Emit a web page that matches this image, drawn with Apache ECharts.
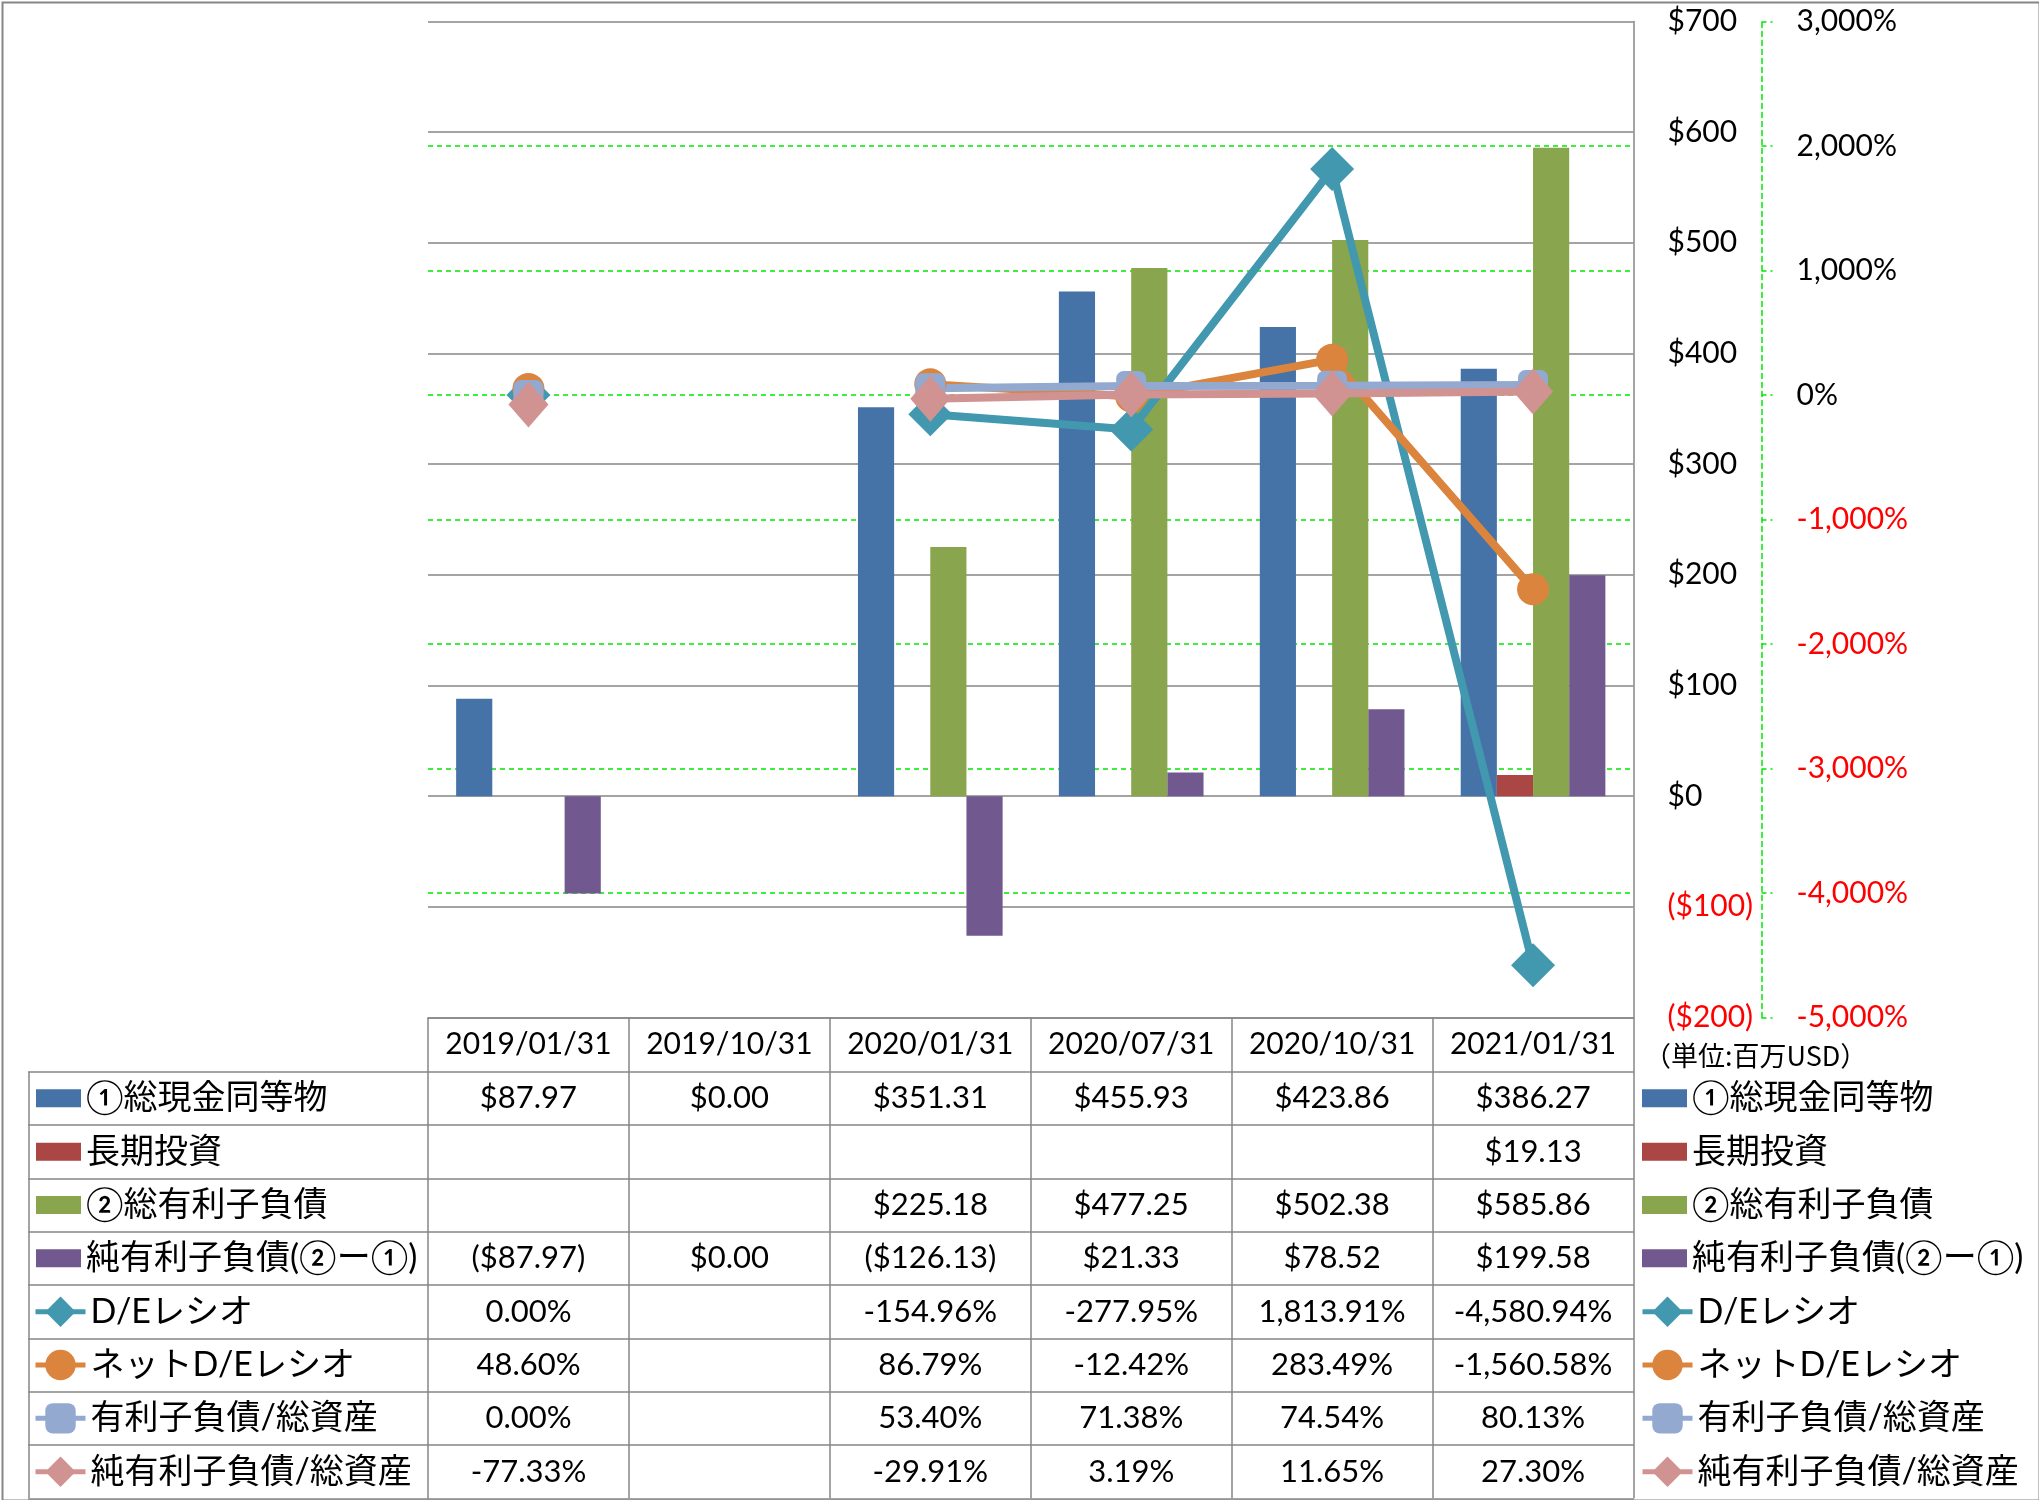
<!DOCTYPE html>
<html><head><meta charset="utf-8">
<script src="https://cdn.jsdelivr.net/npm/echarts@6/dist/echarts.min.js"></script>
<style>html,body{margin:0;padding:0;background:#fff}#c{width:2039px;height:1500px}</style>
</head><body><div id="c"></div>
<script>
// ---------- data ----------
const categories = ['2019/01/31','2019/10/31','2020/01/31','2020/07/31','2020/10/31','2021/01/31'];
const barNames = ['①総現金同等物','長期投資','②総有利子負債','純有利子負債(②ー①)'];
const lineNames = ['D/Eレシオ','ネットD/Eレシオ','有利子負債/総資産','純有利子負債/総資産'];
const cashEquiv      = [87.97, 0, 351.31, 455.93, 423.86, 386.27];
const longTermInv    = [null, null, null, null, null, 19.13];
const totalDebt      = [null, null, 225.18, 477.25, 502.38, 585.86];
const netDebt        = [-87.97, 0, -126.13, 21.33, 78.52, 199.58];
const deRatio        = [0.00, null, -154.96, -277.95, 1813.91, -4580.94];
const netDeRatio     = [48.60, null, 86.79, -12.42, 283.49, -1560.58];
const debtToAssets   = [0.00, null, 53.40, 71.38, 74.54, 80.13];
const netDebtToAssets= [-77.33, null, -29.91, 3.19, 11.65, 27.30];
const usdAxis = {min: -200, max: 700, interval: 100};
const pctAxis = {min: -5000, max: 3000, interval: 1000};
const unitNote = '（単位:百万USD）';

// ---------- styling / layout ----------
const barColors = ['#4572A7','#AA4643','#89A54E','#71588F'];
const lineColors = ['#4198AF','#DB843D','#93A9CF','#D19392'];
const lineSymbols = ['diamond','circle','roundRect','diamond'];
const lineSymbolSizes = [44, 32, 30, [40, 46]];
const W = 2039, H = 1500;
const plotLeft = 428, plotRight = 1633.5, plotTop = 21.4, plotBottom = 1017.5;
const tableLeft = 28.6, headerH = 54.2, rowH = 53.33;
const gray = '#868686';
const green = '#00e600';
const latin = 'Lato, "Noto Sans CJK JP", sans-serif';

function num2(v){ return Math.abs(v).toLocaleString('en-US',{minimumFractionDigits:2, maximumFractionDigits:2}); }
function fmtUSD(v){ if (v == null) return ''; return v < 0 ? '($' + num2(v) + ')' : '$' + num2(v); }
function fmtPct(v){ if (v == null) return ''; return (v < 0 ? '-' : '') + num2(v) + '%'; }

const tableRows = [
  {values: cashEquiv, fmt: fmtUSD},
  {values: longTermInv, fmt: fmtUSD},
  {values: totalDebt, fmt: fmtUSD},
  {values: netDebt, fmt: fmtUSD},
  {values: deRatio, fmt: fmtPct},
  {values: netDeRatio, fmt: fmtPct},
  {values: debtToAssets, fmt: fmtPct},
  {values: netDebtToAssets, fmt: fmtPct}
];

const lineAx = {show: true, onZero: false, lineStyle: {color: gray, width: 1.5}};
const xAxes = [];
// header row (dates)
xAxes.push({
  type: 'category', gridIndex: 0, data: categories, position: 'bottom', offset: 0,
  axisLine: lineAx,
  axisTick: {show: true, interval: 0, length: headerH, lineStyle: {color: gray, width: 1.5}},
  axisLabel: {interval: 0, margin: headerH/2, verticalAlign: 'middle', fontFamily: latin, fontSize: 30, color: '#000'},
  splitLine: {show: false}
});
// data rows
tableRows.forEach((r, i) => {
  xAxes.push({
    type: 'category', gridIndex: 0, data: categories, position: 'bottom', offset: headerH + i*rowH,
    axisLine: lineAx,
    axisTick: {show: true, interval: 0, length: rowH, lineStyle: {color: gray, width: 1.5}},
    axisLabel: {interval: 0, margin: rowH/2, verticalAlign: 'middle', fontFamily: latin, fontSize: 31, color: '#000',
      formatter: (val, idx) => r.fmt(r.values[idx])},
    splitLine: {show: false}
  });
});
xAxes.push({
  type: 'category', gridIndex: 0, data: categories, position: 'bottom', offset: headerH + 8*rowH,
  axisLine: lineAx, axisTick: {show: false}, axisLabel: {show: false}, splitLine: {show: false}
});
// label column grid
for (let i = 0; i <= 8; i++) {
  xAxes.push({
    type: 'category', gridIndex: 1, data: [''], position: 'bottom', offset: headerH + i*rowH,
    axisLine: lineAx,
    axisTick: {show: i < 8, interval: 0, length: rowH, lineStyle: {color: gray, width: 1.5}},
    axisLabel: {show: false}, splitLine: {show: false}
  });
}

const textLH = 34;
const legendCommon = {
  orient: 'vertical', padding: 0, itemGap: rowH - textLH, selectedMode: false,
  lineStyle: {width: 5},
  textStyle: {fontSize: 34, fontFamily: latin, color: '#000', lineHeight: textLH}
};
const rowCenter0 = plotBottom + headerH + rowH/2;

const option = {
  animation: false,
  backgroundColor: '#fff',
  title: {text: unitNote, left: 1644, top: 1042, padding: 0,
    textStyle: {fontSize: 27, fontWeight: 'normal', fontFamily: '"Noto Sans CJK JP"', color: '#000'}},
  grid: [
    {left: plotLeft, right: W - plotRight, top: plotTop, bottom: H - plotBottom, outerBoundsMode: 'none', containLabel: false},
    {left: tableLeft, right: W - plotLeft, top: plotTop, bottom: H - plotBottom, outerBoundsMode: 'none', containLabel: false}
  ],
  xAxis: xAxes,
  yAxis: [
    {type: 'value', gridIndex: 0, position: 'right', min: usdAxis.min, max: usdAxis.max, interval: usdAxis.interval,
      axisLine: {show: true, onZero: false, lineStyle: {color: gray, width: 1.5}},
      axisTick: {show: false},
      splitLine: {show: true, lineStyle: {color: gray, width: 1.5}},
      axisLabel: {margin: 34, fontFamily: latin, fontSize: 30,
        formatter: v => v < 0 ? '($' + Math.abs(v) + ')' : '$' + v,
        color: v => (+v < 0 ? '#ff0000' : '#000')}},
    {type: 'value', gridIndex: 0, position: 'right', offset: 128, min: pctAxis.min, max: pctAxis.max, interval: pctAxis.interval,
      axisLine: {show: true, onZero: false, lineStyle: {color: green, width: 1.5, type: [5, 4]}},
      axisTick: {show: true, length: 11, lineStyle: {color: green, width: 1.5, type: [5, 4]}},
      splitLine: {show: true, showMinLine: false, showMaxLine: false, lineStyle: {color: green, width: 1.5, type: [5, 4]}},
      axisLabel: {margin: 35, fontFamily: latin, fontSize: 30,
        formatter: v => v.toLocaleString('en-US') + '%',
        color: v => (+v < 0 ? '#ff0000' : '#000')}},
    {type: 'value', gridIndex: 1, show: false}
  ],
  legend: [
    Object.assign({}, legendCommon, {left: 36, top: rowCenter0 - textLH/2, data: barNames, icon: 'rect', itemWidth: 45, itemHeight: 18}),
    Object.assign({}, legendCommon, {left: 33, top: rowCenter0 + 4*rowH - textLH/2, data: lineNames, itemWidth: 50, itemHeight: 38}),
    Object.assign({}, legendCommon, {left: 1642, top: rowCenter0 - textLH/2, data: barNames, icon: 'rect', itemWidth: 45, itemHeight: 18}),
    Object.assign({}, legendCommon, {left: 1640, top: rowCenter0 + 4*rowH - textLH/2, data: lineNames, itemWidth: 50, itemHeight: 38})
  ],
  graphic: [{type: 'rect', left: 0, top: 0, z: 100, silent: true,
    shape: {width: W - 2, height: H - 2}, style: {fill: 'none', stroke: gray, lineWidth: 2}}],
  series: [
    ...[cashEquiv, longTermInv, totalDebt, netDebt].map((d, i) => ({
      name: barNames[i], type: 'bar', xAxisIndex: 0, yAxisIndex: 0, data: d,
      barGap: '0%', barCategoryGap: '28%', itemStyle: {color: barColors[i]}
    })),
    ...[deRatio, netDeRatio, debtToAssets, netDebtToAssets].map((d, i) => ({
      name: lineNames[i], type: 'line', xAxisIndex: 0, yAxisIndex: 1, data: d,
      symbol: lineSymbols[i], symbolSize: lineSymbolSizes[i], showAllSymbol: true,
      lineStyle: {color: lineColors[i], width: 8}, itemStyle: {color: lineColors[i]}
    }))
  ]
};
const chart = echarts.init(document.getElementById('c'), null, {renderer: 'canvas'});
chart.setOption(option);
</script></body></html>
